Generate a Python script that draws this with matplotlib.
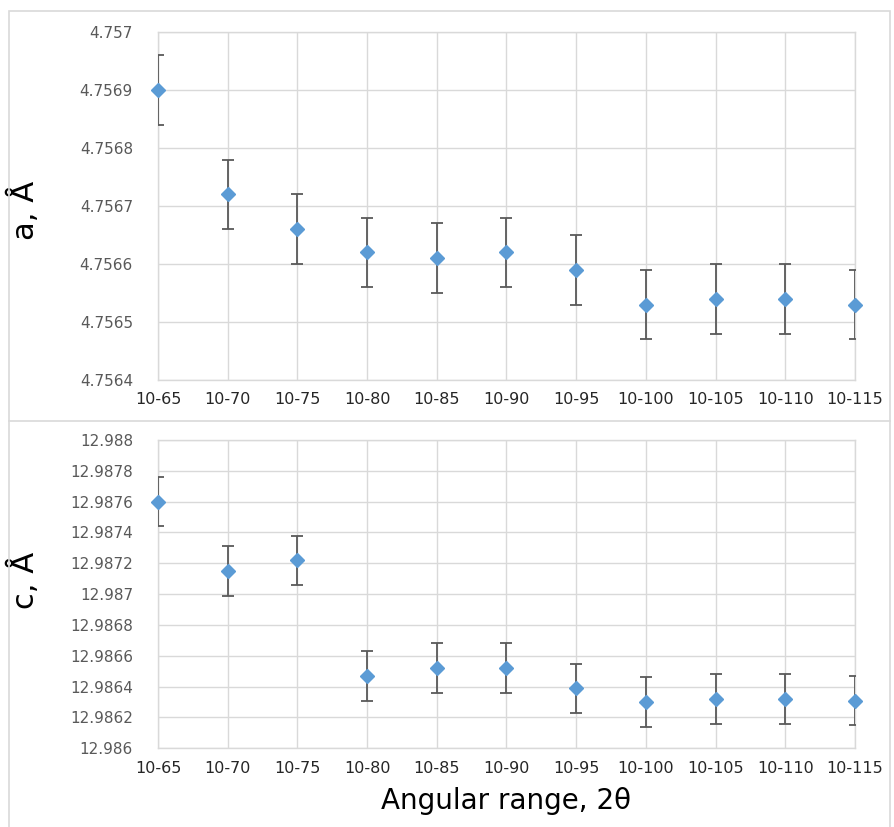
import matplotlib
matplotlib.use("Agg")
import matplotlib.pyplot as plt
from matplotlib.ticker import FuncFormatter, MultipleLocator
from matplotlib.patches import Rectangle
from matplotlib.lines import Line2D

plt.rcParams["font.family"] = ["DejaVu Sans"]

categories = ["10-65", "10-70", "10-75", "10-80", "10-85", "10-90",
              "10-95", "10-100", "10-105", "10-110", "10-115"]
a_values = [4.75690, 4.75672, 4.75666, 4.75662, 4.75661, 4.75662,
            4.75659, 4.75653, 4.75654, 4.75654, 4.75653]
a_errors = [0.00006] * 11
c_values = [12.98760, 12.98715, 12.98722, 12.98647, 12.98652, 12.98652,
            12.98639, 12.98630, 12.98632, 12.98632, 12.98631]
c_errors = [0.00016] * 11

W, H = 895, 827
fig = plt.figure(figsize=(W / 100, H / 100), dpi=100)

def fx(px):
    return px / W

def fy(py):
    return 1 - py / H

marker_color = "#5B9BD5"
err_color = "#595959"
grid_color = "#D9D9D9"

def fmt(v, pos):
    return "{:.4f}".format(v).rstrip("0").rstrip(".")

def make_panel(rect, vals, errs, ylim, ystep, ylabel):
    ax = fig.add_axes(rect)
    x = list(range(len(categories)))
    ax.errorbar(x, vals, yerr=errs, fmt="none", ecolor=err_color,
                elinewidth=1.3, capsize=4.3, capthick=1.3, zorder=3)
    ax.plot(x, vals, linestyle="none", marker="D", markersize=7.5,
            color=marker_color, markeredgecolor=marker_color, zorder=4,
            clip_on=False)
    ax.set_xlim(0, len(categories) - 1)
    ax.set_ylim(*ylim)
    ax.yaxis.set_major_locator(MultipleLocator(ystep))
    ax.yaxis.set_major_formatter(FuncFormatter(fmt))
    ax.set_xticks(x)
    ax.set_xticklabels(categories)
    ax.grid(True, color=grid_color, linewidth=1.0)
    ax.set_axisbelow(True)
    for sp in ax.spines.values():
        sp.set_color(grid_color)
        sp.set_linewidth(1.0)
    ax.tick_params(axis="both", length=0)
    ax.tick_params(axis="y", pad=18, labelsize=11, labelcolor="#595959")
    ax.tick_params(axis="x", pad=9, labelsize=11.5, labelcolor="#262626")
    ax.set_ylabel(ylabel, fontsize=22, color="#000000")
    return ax

ax1 = make_panel([fx(158), fy(380), fx(855) - fx(158), fy(32) - fy(380)],
                 a_values, a_errors, (4.7564, 4.757), 0.0001, "a, Å")
ax2 = make_panel([fx(158), fy(748.3), fx(855) - fx(158), fy(440) - fy(748.3)],
                 c_values, c_errors, (12.986, 12.988), 0.0002, "c, Å")
ax2.set_xlabel("Angular range, 2θ", fontsize=20, labelpad=8)

ax1.yaxis.set_label_coords((40 - 158) / (855 - 158), (380 - 210) / (380 - 32))
ax2.yaxis.set_label_coords((40 - 158) / (855 - 158), (748.3 - 580) / (748.3 - 440))

# panel frames
fig.add_artist(Rectangle((fx(9), fy(421)), fx(890) - fx(9), fy(11) - fy(421),
                         transform=fig.transFigure, fill=False,
                         edgecolor=grid_color, linewidth=1.2))
for xs, ys in [([fx(9), fx(9)], [fy(421), 0]), ([fx(890), fx(890)], [fy(421), 0])]:
    fig.add_artist(Line2D(xs, ys, transform=fig.transFigure, color=grid_color,
                          linewidth=1.2))

fig.savefig("out.png", dpi=100)
